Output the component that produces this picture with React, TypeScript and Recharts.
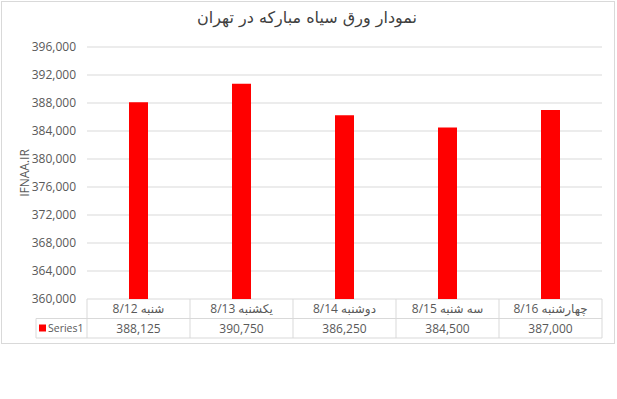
import React from 'react';
import { BarChart, Bar, XAxis, YAxis, CartesianGrid, Label } from 'recharts';

const categories = ['شنبه 8/12', 'یکشنبه 8/13', 'دوشنبه 8/14', 'سه شنبه 8/15', 'چهارشنبه 8/16'];
const seriesValues = [388125, 390750, 386250, 384500, 387000];
const yTicks = [360000, 364000, 368000, 372000, 376000, 380000, 384000, 388000, 392000, 396000];
const seriesName = 'Series1';
const title = 'نمودار ورق سیاه مبارکه در تهران';

const data = categories.map((name, i) => ({ name, value: seriesValues[i] }));

const LINE = '#d9d9d9';
const TEXT = '#595959';
const FONT = '"Open Sans", "DejaVu Sans", sans-serif';
const ROW = 19.5;

const fmt = (v: number) => v.toLocaleString('en-US');

// data table under the plot: one column per category, drawn from the axis tick
function TableTick(props: any) {
  const { x, y, width, index, payload } = props;
  const bw = width / categories.length;
  const left = x - bw / 2;
  const right = x + bw / 2;
  return (
    <g>
      <line x1={left} y1={y} x2={left} y2={y + ROW * 2} stroke={LINE} />
      {index === categories.length - 1 && (
        <line x1={right} y1={y} x2={right} y2={y + ROW * 2} stroke={LINE} />
      )}
      <line x1={left} y1={y + ROW} x2={right} y2={y + ROW} stroke={LINE} />
      <line x1={left} y1={y + ROW * 2} x2={right} y2={y + ROW * 2} stroke={LINE} />
      <text
        x={x}
        y={y + 14}
        textAnchor="middle"
        direction="rtl"
        fill={TEXT}
        fontSize={12}
        fontFamily={FONT}
      >
        {payload.value}
      </text>
      <text x={x} y={y + ROW + 14} textAnchor="middle" fill={TEXT} fontSize={12} fontFamily={FONT}>
        {fmt(seriesValues[index])}
      </text>
      {index === 0 && (
        <g>
          <line x1={36} y1={y + ROW} x2={left} y2={y + ROW} stroke={LINE} />
          <line x1={36} y1={y + ROW * 2} x2={left} y2={y + ROW * 2} stroke={LINE} />
          <line x1={36} y1={y + ROW} x2={36} y2={y + ROW * 2} stroke={LINE} />
          <rect x={39} y={y + ROW + 6} width={7} height={7} fill="#FF0000" />
          <text x={48} y={y + ROW + 13.5} fill={TEXT} fontSize={10.5} fontFamily={FONT}>
            {seriesName}
          </text>
        </g>
      )}
    </g>
  );
}

export default function App() {
  return (
    <div style={{ position: 'absolute', left: 0, top: 0, width: 617, height: 399, background: '#fff' }}>
      <div
        style={{
          position: 'absolute',
          left: 1,
          top: 1,
          width: 612,
          height: 341,
          border: `1px solid ${LINE}`,
        }}
      />
      <div
        style={{
          position: 'absolute',
          left: 1,
          width: 612,
          top: 8,
          textAlign: 'center',
          fontFamily: '"DejaVu Sans", sans-serif',
          fontSize: 16,
          color: '#404040',
          direction: 'rtl',
        }}
      >
        {title}
      </div>
      <div style={{ position: 'absolute', left: 0, top: 0 }}>
        <BarChart
          width={617}
          height={399}
          data={data}
          margin={{ top: 47, right: 15, left: 0, bottom: 60 }}
        >
          <CartesianGrid vertical={false} stroke={LINE} />
          <XAxis
            dataKey="name"
            axisLine={false}
            tickLine={false}
            tickSize={0}
            tickMargin={0}
            height={40}
            interval={0}
            tick={<TableTick />}
          />
          <YAxis
            width={87}
            domain={[360000, 396000]}
            ticks={yTicks}
            interval={0}
            axisLine={false}
            tickLine={false}
            tickMargin={5}
            tickFormatter={fmt}
            tick={{ fill: TEXT, fontSize: 12, fontFamily: FONT }}
          >
            <Label
              content={({ viewBox }: any) => {
                const cx = 24;
                const cy = viewBox.y + viewBox.height / 2;
                return (
                  <text
                    x={cx}
                    y={cy}
                    transform={`rotate(-90 ${cx} ${cy})`}
                    textAnchor="middle"
                    dominantBaseline="central"
                    fill={TEXT}
                    fontSize={12}
                    fontFamily={FONT}
                  >
                    IFNAA.IR
                  </text>
                );
              }}
            />
          </YAxis>
          <Bar dataKey="value" fill="#FF0000" barSize={19} isAnimationActive={false} />
        </BarChart>
      </div>
    </div>
  );
}
